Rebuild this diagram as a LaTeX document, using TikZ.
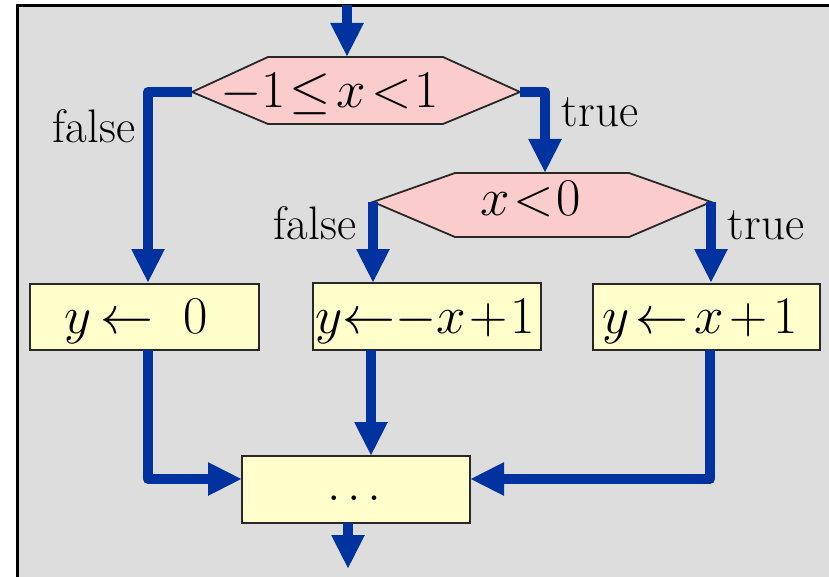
\RequirePackage{fix-cm}
\documentclass[tikz,border=0pt]{standalone}
\usetikzlibrary{arrows.meta}
\definecolor{bg}{RGB}{221,221,221}
\definecolor{flow}{RGB}{0,51,160}
\definecolor{hexfill}{RGB}{250,204,204}
\definecolor{boxfill}{RGB}{255,255,204}
\definecolor{edge}{RGB}{40,40,40}
\begin{document}
\begin{tikzpicture}[x=1pt,y=-1pt,
  conn/.style={draw=flow,line width=10pt,line join=round,-{Triangle[width=31pt,length=34pt]}},
  hexa/.style={draw=edge,fill=hexfill,line width=1.8pt,line join=miter},
  stmt/.style={draw=edge,fill=boxfill,line width=1.8pt,inner sep=0pt},
  big/.style={font=\fontsize{53}{58}\selectfont,inner sep=0pt,anchor=base},
  lbl/.style={font=\fontsize{47}{52}\selectfont,inner sep=0pt,anchor=base}
]
\useasboundingbox (0,0) rectangle (829,577);
\fill[white] (0,0) rectangle (829,577);
\fill[bg] (16,4) rectangle (829,577);
\draw[black,line width=3pt] (17.5,577) -- (17.5,5.5) -- (829,5.5);

% shapes
\coordinate (h1w) at (192,92);
\coordinate (h1e) at (520,92);
\coordinate (h1n) at (347,57);
\draw[hexa] (h1w) -- (268,57) -- (443,57) -- (h1e) -- (443,124) -- (268,124) -- cycle;
\node[big] (t1) at (330,108) {${-}1\mkern1mu{\le}\mkern2mu{x}\mkern2mu{<}\mkern1mu1$};

\coordinate (h2w) at (373,202);
\coordinate (h2e) at (711,202);
\coordinate (h2n) at (545,173);
\draw[hexa] (h2w) -- (455,173) -- (629,173) -- (h2e) -- (629,237) -- (455,237) -- cycle;
\node[big] (t2) at (531,216) {${x}\mkern1mu{<}\mkern1mu0$};

\node[stmt,minimum width=229pt,minimum height=66pt] (b1) at (144.5,317) {};
\node[big] (bt1) at (136,333) {${y}\mkern3mu{\leftarrow}\mkern10mu0$};
\node[stmt,minimum width=228pt,minimum height=67pt] (b2) at (427,316.5) {};
\node[big] (bt2) at (425,333) {${y}{\leftarrow}{-}{x}\mkern1mu{+}\mkern1mu1$};
\node[stmt,minimum width=227pt,minimum height=66pt] (b3) at (706.5,317) {};
\node[big] (bt3) at (700,333) {${y}\mkern2mu{\leftarrow}\mkern2mu{x}\mkern2mu{+}\mkern2mu1$};

\node[stmt,minimum width=228pt,minimum height=67pt] (b4) at (356,489.5) {};
\node[font=\fontsize{32}{34}\selectfont\bfseries,inner sep=0pt,anchor=base] (dots) at (354,500) {.\hspace{10pt}.\hspace{10pt}.};

% connection points
\coordinate (top) at (347,5);
\coordinate (b1n) at (148,283);
\coordinate (b2n) at (373,283);
\coordinate (b3n) at (711,283);
\coordinate (b1s) at (148,350);
\coordinate (b2s) at (371,350);
\coordinate (b3s) at (710,350);
\coordinate (b4w) at (242,479);
\coordinate (b4n) at (371,456);
\coordinate (b4e) at (470,479);
\coordinate (b4s) at (348,523);
\coordinate (out) at (348,569);

% connectors
\draw[conn] (top) -- (h1n);
\draw[conn] (h1w) -- (148,92) -- (b1n);
\draw[conn] (h1e) -- (545,92) -- (h2n);
\draw[conn] (h2w) -- (b2n);
\draw[conn] (h2e) -- (b3n);
\draw[conn] (b1s) -- (148,479) -- (b4w);
\draw[conn] (b2s) -- (b4n);
\draw[conn] (b3s) -- (710,479) -- (b4e);
\draw[conn] (b4s) -- (out);

% labels
\node[lbl] (f1) at (94,143) {false};
\node[lbl] (tr1) at (600,127) {true};
\node[lbl] (f2) at (315,240) {false};
\node[lbl] (tr2) at (766,240) {true};
\end{tikzpicture}
\end{document}
